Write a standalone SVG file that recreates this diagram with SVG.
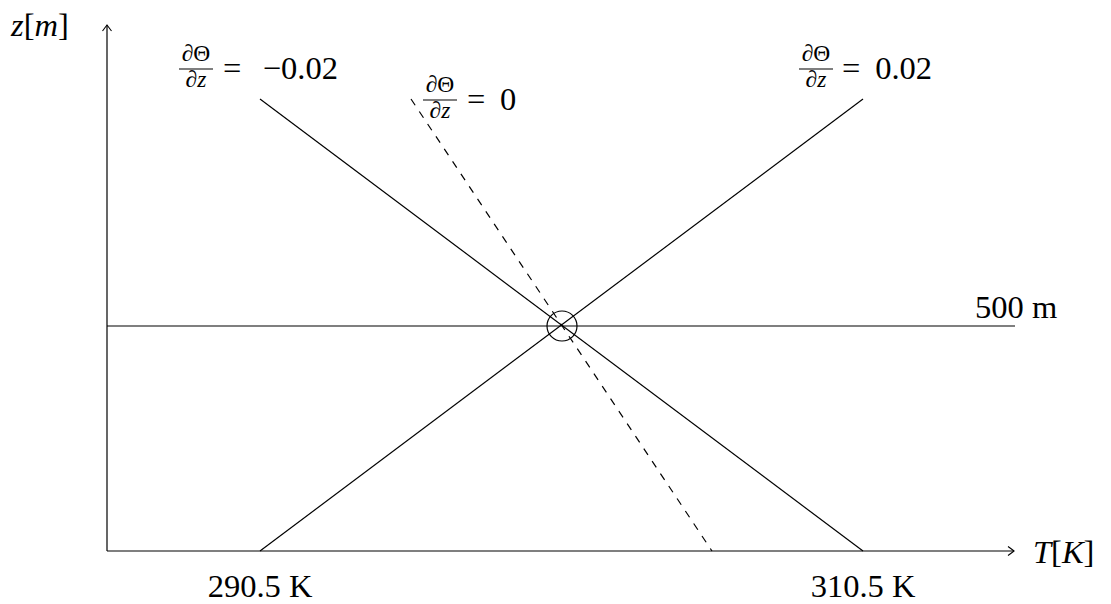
<svg xmlns="http://www.w3.org/2000/svg" width="1111" height="604" viewBox="0 0 1111 604">
<style>
.ln{stroke:#000;stroke-width:1.2;fill:none}
.ax{stroke:#000;stroke-width:1.2;fill:none;marker-end:url(#to)}
text{font-family:"Liberation Serif","DejaVu Serif","Noto Serif","Times New Roman",serif;fill:#000}
.t{font-size:32.5px}
.f{font-size:23.5px}
.i{font-style:italic}
</style>
<defs>
<marker id="to" viewBox="-8 -6 10 12" markerWidth="10" markerHeight="12" refX="0" refY="0" orient="auto" markerUnits="userSpaceOnUse">
<path d="M-6,-4.5 Q-1.5,-1.2 0,0 Q-1.5,1.2 -6,4.5" stroke="#000" stroke-width="1.1" fill="none"/>
</marker>
</defs>
<rect width="1111" height="604" fill="#fff"/>
<g id="connectors">
<line class="ax" x1="107" y1="551" x2="107" y2="25"/>
<line class="ax" x1="107" y1="551" x2="1014" y2="551"/>
<line class="ln" x1="107" y1="326" x2="1015" y2="326"/>
<line class="ln" x1="260" y1="99" x2="863" y2="551"/>
<line class="ln" x1="260" y1="551" x2="863" y2="99"/>
<line class="ln" x1="411" y1="99" x2="712" y2="551" stroke-dasharray="7.5 7.5"/>
</g>
<g id="circle"><circle class="ln" cx="562" cy="326" r="15"/></g>
<g id="ylabel"><text class="t" x="40" y="36" text-anchor="middle"><tspan class="i">z</tspan>[<tspan class="i">m</tspan>]</text></g>
<g id="xlabel"><text class="t" x="1033" y="563"><tspan class="i">T</tspan>[<tspan class="i">K</tspan>]</text></g>
<g id="label-neg">
<text class="f" x="196" y="61" text-anchor="middle">∂Θ</text>
<line class="ln" x1="179" y1="69" x2="213" y2="69"/>
<text class="f" x="196" y="87" text-anchor="middle">∂<tspan class="i">z</tspan></text>
<text class="t" x="223" y="79">=</text>
<text class="t" x="338" y="79" text-anchor="end">−0.02</text>
</g>
<g id="label-zero">
<text class="f" x="440" y="92" text-anchor="middle">∂Θ</text>
<line class="ln" x1="423" y1="100" x2="457" y2="100"/>
<text class="f" x="440" y="118" text-anchor="middle">∂<tspan class="i">z</tspan></text>
<text class="t" x="467" y="110">=</text>
<text class="t" x="500" y="110">0</text>
</g>
<g id="label-pos">
<text class="f" x="816" y="61" text-anchor="middle">∂Θ</text>
<line class="ln" x1="799" y1="69" x2="833" y2="69"/>
<text class="f" x="816" y="87" text-anchor="middle">∂<tspan class="i">z</tspan></text>
<text class="t" x="842" y="79">=</text>
<text class="t" x="932" y="79" text-anchor="end">0.02</text>
</g>
<g id="label-500"><text class="t" x="975" y="318">500 m</text></g>
<g id="label-2905"><text class="t" x="260" y="597" text-anchor="middle">290.5 K</text></g>
<g id="label-3105"><text class="t" x="863" y="597" text-anchor="middle">310.5 K</text></g>
</svg>
